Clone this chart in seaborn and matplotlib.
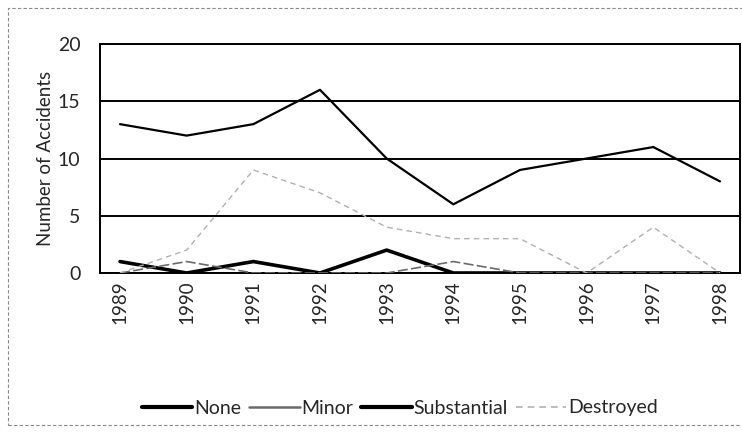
import matplotlib
matplotlib.use("Agg")
import matplotlib.pyplot as plt
import seaborn as sns
import pandas as pd
from matplotlib.lines import Line2D
from matplotlib.patches import Rectangle

years = ["1989", "1990", "1991", "1992", "1993", "1994", "1995", "1996", "1997", "1998"]
none_vals = [1, 0, 1, 0, 2, 0, 0, 0, 0, 0]
minor_vals = [0, 1, 0, 0, 0, 1, 0, 0, 0, 0]
substantial_vals = [13, 12, 13, 16, 10, 6, 9, 10, 11, 8]
destroyed_vals = [0, 2, 9, 7, 4, 3, 3, 0, 4, 0]
y_ticks = [0, 5, 10, 15, 20]

sns.set_theme(style="white")
plt.rcParams['font.family'] = ['Lato', 'DejaVu Sans']

fig = plt.figure(figsize=(7.42, 4.32), dpi=100)
ax = fig.add_axes([100/742, 1-273/432, 640/742, 229/432])

series = [
    ("None", none_vals, dict(color="black", linewidth=2.6, linestyle="-")),
    ("Minor", minor_vals, dict(color="#6a6a6a", linewidth=1.2, linestyle=(0, (6, 2)))),
    ("Substantial", substantial_vals, dict(color="black", linewidth=1.6, linestyle="-")),
    ("Destroyed", destroyed_vals, dict(color="#b0b0b0", linewidth=1.0, linestyle=(0, (4, 3)))),
]

pos = list(range(len(years)))
handles = []
for name, vals, st in series:
    df = pd.DataFrame({"x": pos, "y": vals})
    sns.lineplot(data=df, x="x", y="y", ax=ax, color=st["color"],
                 linewidth=st["linewidth"], linestyle=st["linestyle"], zorder=3)
    handles.append(Line2D([0], [0], color=st["color"],
                          linewidth=(3.0 if name in ("None", "Substantial") else (1.8 if name == "Minor" else 1.2)),
                          linestyle=("-" if name != "Destroyed" else st["linestyle"]), label=name))

ax.set_xlim(-0.3, len(years) - 1 + 0.3)
ax.set_ylim(0, 20)
ax.set_yticks(y_ticks)
ax.set_yticklabels([str(t) for t in y_ticks], fontsize=14)
ax.set_xticks(pos)
ax.set_xticklabels(years, rotation=90, fontsize=13.5)
ax.tick_params(axis="x", length=0, pad=5)
ax.tick_params(axis="y", length=0, pad=14)
for t in y_ticks:
    ax.axhline(t, color="black", linewidth=1.4, zorder=2)
for s in ax.spines.values():
    s.set_color("black")
    s.set_linewidth(1.4)
ax.set_xlabel("")
ax.set_ylabel("Number of Accidents", fontsize=13.5, labelpad=3)

leg = fig.legend(handles=handles, loc="center", bbox_to_anchor=(400/742, 1-408/432),
                 ncol=4, frameon=False, fontsize=14, handlelength=2.6,
                 handletextpad=0.1, columnspacing=0.4)

# scanned page border
fig.patches.append(Rectangle((8/742, 1-425/432), 740/742, 417/432, transform=fig.transFigure,
                             fill=False, edgecolor="#888888", linewidth=0.8, linestyle=(0, (3, 2))))

fig.savefig("out.png", dpi=100)
